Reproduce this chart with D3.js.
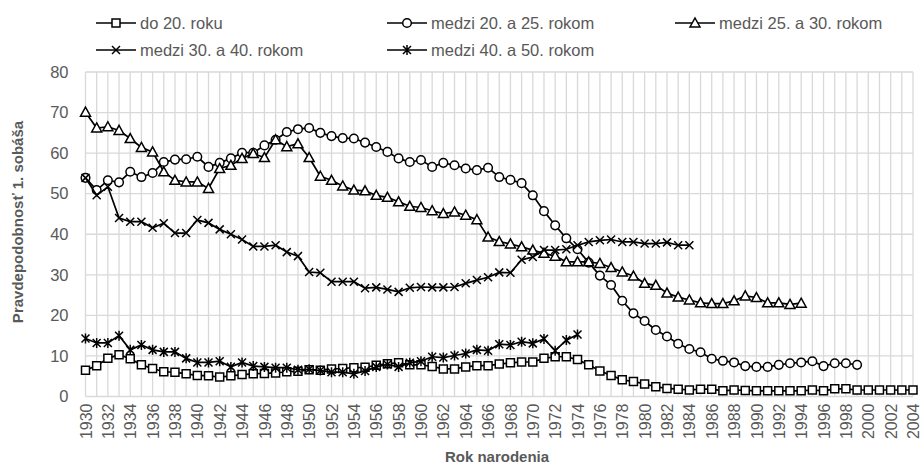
<!DOCTYPE html>
<html>
<head>
<meta charset="utf-8">
<script src="https://cdn.jsdelivr.net/npm/d3@7"></script>
<style>
  body { margin: 0; background: #fff; }
  text { font-family: "Liberation Sans", Arial, sans-serif; }
</style>
</head>
<body>
<div id="chart"></div>
<script>
const years = d3.range(1930, 2005);
const y_ticks = [0, 10, 20, 30, 40, 50, 60, 70, 80];

const series_names = ['do 20. roku', 'medzi 20. a 25. rokom', 'medzi 25. a 30. rokom',
  'medzi 30. a 40. rokom', 'medzi 40. a 50. rokom'];
const series_markers = ['square', 'circle', 'triangle', 'x', 'star'];

// all series start in 1930
const do_20 = [6.5, 7.6, 9.4, 10.3, 9.3, 7.8, 6.9, 6.1, 6.0, 5.6,
  5.2, 5.1, 4.8, 5.1, 5.4, 5.6, 5.7, 5.8, 6.1, 6.2,
  6.6, 6.5, 6.8, 6.9, 7.1, 7.2, 7.7, 8.1, 8.3, 7.8,
  7.8, 7.4, 6.8, 6.8, 7.3, 7.6, 7.6, 8.0, 8.3, 8.5,
  8.5, 9.4, 9.8, 9.8, 9.1, 7.8, 6.3, 5.2, 4.1, 3.7,
  3.1, 2.4, 2.0, 1.8, 1.6, 1.8, 1.8, 1.4, 1.6, 1.5,
  1.4, 1.4, 1.4, 1.4, 1.4, 1.6, 1.4, 1.9, 1.9, 1.6,
  1.6, 1.6, 1.6, 1.6, 1.6];
const medzi_20_25 = [53.9, 50.9, 53.3, 52.8, 55.4, 54.1, 55.1, 57.8, 58.4, 58.5,
  59.1, 56.6, 57.6, 58.7, 60.1, 60.1, 61.9, 63.3, 65.2, 65.9,
  66.2, 65.0, 64.2, 63.7, 63.6, 62.6, 61.5, 60.3, 58.7, 57.8,
  58.3, 56.6, 57.6, 57.0, 56.2, 55.8, 56.4, 54.1, 53.4, 52.6,
  49.6, 45.7, 42.2, 39.0, 36.3, 33.0, 29.8, 27.5, 23.6, 20.5,
  18.6, 16.4, 14.8, 13.0, 11.7, 10.9, 9.3, 8.8, 8.4, 7.5,
  7.3, 7.3, 7.8, 8.2, 8.4, 8.7, 7.5, 8.2, 8.2, 7.8];
const medzi_25_30 = [70.1, 66.2, 66.5, 65.6, 63.6, 61.4, 60.3, 55.4, 53.3, 52.9,
  52.9, 51.3, 56.2, 57.0, 58.7, 59.9, 58.9, 63.3, 61.6, 62.3,
  58.9, 54.3, 53.3, 51.9, 50.9, 50.7, 49.6, 49.1, 48.0, 46.9,
  46.6, 45.8, 45.1, 45.5, 44.7, 43.6, 39.3, 38.2, 37.6, 36.9,
  36.1, 35.3, 34.6, 33.2, 33.2, 33.2, 32.8, 31.8, 30.7, 29.7,
  27.9, 27.4, 25.5, 24.5, 23.8, 23.1, 22.9, 22.9, 23.6, 24.8,
  24.4, 23.1, 23.1, 22.7, 23.0];
const medzi_30_40 = [53.9, 49.6, 51.7, 44.0, 43.1, 43.1, 41.6, 42.7, 40.3, 40.3,
  43.5, 42.8, 41.2, 40.0, 38.7, 37.0, 37.0, 37.3, 35.6, 34.6,
  30.7, 30.5, 28.3, 28.3, 28.3, 26.7, 26.9, 26.4, 25.8, 26.8,
  27.0, 26.9, 26.9, 27.0, 27.9, 28.7, 29.4, 30.6, 30.5, 33.7,
  34.4, 36.1, 36.1, 36.3, 37.3, 38.1, 38.5, 38.7, 38.1, 38.1,
  37.7, 37.7, 38.0, 37.3, 37.3];
const medzi_40_50 = [14.3, 13.2, 13.2, 15.0, 11.5, 12.7, 11.5, 11.0, 11.0, 9.4,
  8.4, 8.4, 8.7, 7.3, 8.4, 7.5, 7.3, 7.1, 7.1, 6.6,
  6.7, 6.4, 6.0, 6.0, 5.6, 6.3, 7.3, 7.9, 7.3, 8.3,
  8.7, 9.8, 9.6, 10.1, 10.6, 11.5, 11.3, 12.9, 12.7, 13.5,
  13.1, 14.2, 11.3, 13.9, 15.3];

const all_series = [do_20, medzi_20_25, medzi_25_30, medzi_30_40, medzi_40_50];

const text_color = '#595959';
const grid_color = '#d9d9d9';

const x = d3.scalePoint().domain(years).range([85.5, 913]);
const y = d3.scaleLinear().domain([0, 80]).range([396.5, 72]);

const svg = d3.select('#chart').append('svg')
  .attr('width', 923)
  .attr('height', 469);

// grid
svg.append('g').selectAll('line')
  .data(years)
  .enter().append('line')
    .attr('x1', (d) => x(d)).attr('x2', (d) => x(d))
    .attr('y1', y(80)).attr('y2', y(0))
    .attr('stroke', grid_color).attr('stroke-width', 1.3);
svg.append('g').selectAll('line')
  .data(y_ticks)
  .enter().append('line')
    .attr('x1', x(1930)).attr('x2', x(2004))
    .attr('y1', (d) => y(d)).attr('y2', (d) => y(d))
    .attr('stroke', grid_color).attr('stroke-width', 1.3);

// axes
const y_ax = d3.axisLeft(y).tickValues(y_ticks).tickSize(0).tickPadding(17);
svg.append('g')
  .attr('transform', 'translate(' + x(1930) + ',0)')
  .call(y_ax)
  .call((g) => g.select('.domain').remove())
  .selectAll('text')
    .attr('fill', text_color)
    .style('font-size', '16.5px');

const x_ax = d3.axisBottom(x).tickValues(years.filter((d) => d % 2 == 0)).tickSize(0);
svg.append('g')
  .attr('transform', 'translate(0,' + y(0) + ')')
  .call(x_ax)
  .call((g) => g.select('.domain').remove())
  .selectAll('text')
    .attr('fill', text_color)
    .style('font-size', '16px')
    .attr('text-anchor', 'end')
    .attr('dy', '0.35em')
    .attr('transform', 'translate(0,7) rotate(-90)')
    .attr('x', 0).attr('y', 0);

// axis titles
svg.append('text')
  .attr('text-anchor', 'middle')
  .attr('x', 497).attr('y', 462)
  .attr('fill', text_color)
  .style('font-size', '15px').style('font-weight', 'bold')
  .text('Rok narodenia');
svg.append('text')
  .attr('text-anchor', 'middle')
  .attr('transform', 'translate(23,' + 222 + ') rotate(-90)')
  .attr('fill', text_color)
  .style('font-size', '15px').style('font-weight', 'bold')
  .text('Pravdepodobnosť 1. sobáša');

function marker_path(type) {
  if (type == 'square') return 'M-4,-4H4V4H-4Z';
  if (type == 'circle') return 'M4.3,0A4.3,4.3 0 1,1 -4.3,0A4.3,4.3 0 1,1 4.3,0Z';
  if (type == 'triangle') return 'M0,-5L5,4H-5Z';
  if (type == 'x') return 'M-4,-4L4,4M-4,4L4,-4';
  return 'M-4,-4L4,4M-4,4L4,-4M0,-5V5';
}

function draw_marker(g, type, cx, cy) {
  g.append('path')
    .attr('d', marker_path(type))
    .attr('transform', 'translate(' + cx + ',' + cy + ')')
    .attr('fill', '#fff')
    .attr('stroke', '#000')
    .attr('stroke-width', 1.5);
}

const line = d3.line()
  .x((d, i) => x(years[i]))
  .y((d) => y(d));

all_series.forEach(function(vals, k) {
  const g = svg.append('g').attr('class', 'series');
  g.append('path')
    .attr('d', line(vals))
    .attr('fill', 'none')
    .attr('stroke', '#000')
    .attr('stroke-width', 1.7);
  vals.forEach(function(v, i) {
    draw_marker(g, series_markers[k], x(years[i]), y(v));
  });
});

// legend
const legend_pos = [[96, 23], [387, 23], [675, 23], [96, 50], [387, 50]];
series_names.forEach(function(name, k) {
  const lg = svg.append('g')
    .attr('transform', 'translate(' + legend_pos[k][0] + ',' + legend_pos[k][1] + ')');
  lg.append('line')
    .attr('x1', 0).attr('x2', 40)
    .attr('stroke', '#000').attr('stroke-width', 1.7);
  draw_marker(lg, series_markers[k], 20, 0);
  lg.append('text')
    .attr('x', 44).attr('dy', '0.35em')
    .attr('fill', text_color)
    .style('font-size', '16.5px')
    .text(name);
});
</script>
</body>
</html>
